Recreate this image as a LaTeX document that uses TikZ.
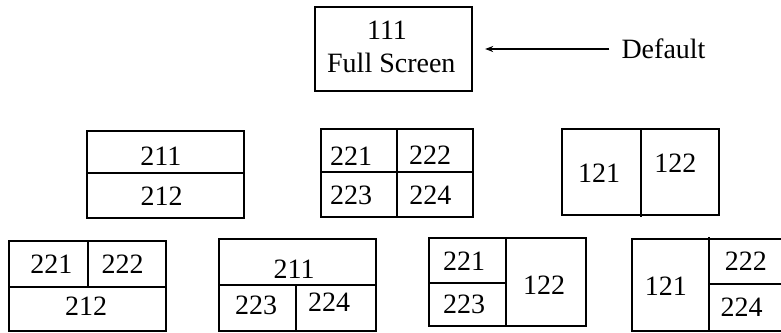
\documentclass[tikz,border=0pt]{standalone}
\usepackage{fontspec}
\setmainfont{Liberation Serif}
\usetikzlibrary{arrows.meta}
\begin{document}
\begin{tikzpicture}[x=1pt,y=-1pt,
  frame/.style={draw,line width=2.2pt,line join=miter},
  divline/.style={line width=2pt},
  lab/.style={inner sep=0pt,font=\fontsize{28}{34}\selectfont},
  arr/.style={line width=1.6pt,-{Stealth[length=8pt,width=6pt]}}]
\useasboundingbox (0,0) rectangle (781,332);
% top box
\node[frame,minimum width=157.3pt,minimum height=84pt,inner sep=0pt] (full) at (393.7,48.7) {};
\node[lab] (t111) at (387,30) {111};
\node[lab] (tfs) at (391.3,62.5) {Full Screen};
\node[lab] (default) at (663.5,49) {Default};
\draw[arr,shorten <=12pt,shorten >=11.7pt] (default.west) -- (default.west -| full.east);
% B1: 211 / 212
\draw[frame] (86.7,130.7) rectangle (244,218.3);
\draw[divline] (86.7,172.7) -- (244,172.7);
\node[lab] (b1a) at (160.8,156.3) {211};
\node[lab] (b1b) at (161.7,196.7) {212};
% B2: 221 222 / 223 224
\draw[frame] (321,129.3) rectangle (472.7,216.7);
\draw[divline] (321,171.7) -- (472.7,171.7);
\draw[divline] (396.7,129.3) -- (396.7,216.7);
\node[lab] (b2a) at (351,155.8) {221};
\node[lab] (b2b) at (430,155.2) {222};
\node[lab] (b2c) at (351,195.8) {223};
\node[lab] (b2d) at (430.3,195.5) {224};
% B3: 121 | 122
\draw[frame] (562.3,129.3) rectangle (719,215);
\draw[divline] (640.7,129.3) -- (640.7,217);
\node[lab] (b3a) at (599,173.3) {121};
\node[lab] (b3b) at (675.3,163.3) {122};
% C1: 221 222 / 212
\draw[frame] (9,240.7) rectangle (165.7,331);
\draw[divline] (9,286.7) -- (165.7,286.7);
\draw[divline] (87.7,240.7) -- (87.7,286.7);
\node[lab] (c1a) at (51.3,263.8) {221};
\node[lab] (c1b) at (122.5,264) {222};
\node[lab] (c1c) at (86.2,306.7) {212};
% C2: 211 / 223 224
\draw[frame] (219,239.3) rectangle (376,331);
\draw[divline] (219,285) -- (376,285);
\draw[divline] (295.7,285) -- (295.7,331);
\node[lab] (c2a) at (294.2,269.2) {211};
\node[lab] (c2b) at (256,305) {223};
\node[lab] (c2c) at (329.2,302) {224};
% C3: 221/223 | 122
\draw[frame] (429,237.7) rectangle (585.7,325.7);
\draw[divline] (429,282.7) -- (506,282.7);
\draw[divline] (506,237.7) -- (506,325.7);
\node[lab] (c3a) at (464.2,260.8) {221};
\node[lab] (c3b) at (464.2,304.2) {223};
\node[lab] (c3c) at (544.2,285) {122};
% C4: 121 | 222/224
\draw[frame] (632.3,239) rectangle (789,331);
\draw[divline] (709.3,284) -- (789,284);
\draw[divline] (709.3,237) -- (709.3,331);
\node[lab] (c4a) at (665.8,286.7) {121};
\node[lab] (c4b) at (745.8,260.8) {222};
\node[lab] (c4c) at (741.7,307.5) {224};
\end{tikzpicture}
\end{document}
